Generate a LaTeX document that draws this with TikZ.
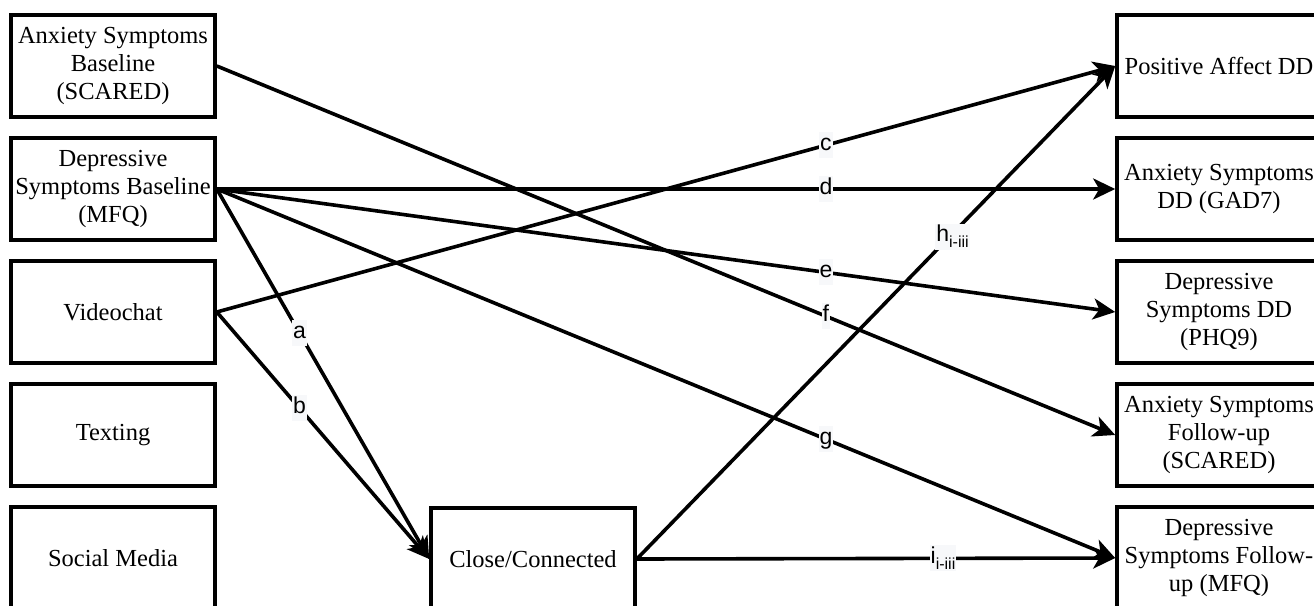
\documentclass[tikz,border=0pt]{standalone}
\usepackage{fontspec}
\setmainfont{Liberation Serif}
\newfontfamily\labfont{Liberation Sans}
\usetikzlibrary{arrows.meta}
\definecolor{labbg}{RGB}{247,248,250}
\begin{document}
\begin{tikzpicture}[x=1pt,y=-1pt,
  box/.style={draw, line width=3.6pt, minimum width=204pt, minimum height=102pt,
    align=center, inner sep=0pt, font=\fontsize{24.5}{28}\selectfont},
  conn/.style={line width=3.6pt, -{Stealth[length=22pt,width=21pt,inset=6pt]}},
  lab/.style={fill=labbg, inner sep=1pt, font=\labfont\fontsize{23}{25}\selectfont,
    text height=17pt, text depth=7pt}]
\useasboundingbox[fill=white] (0,0) rectangle (1314,605);
% left column
\node[box] (asb) at (113,66) {Anxiety Symptoms\\Baseline\\(SCARED)};
\node[box] (dsb) at (113,189) {Depressive\\Symptoms Baseline\\(MFQ)};
\node[box] (vid) at (113,312) {Videochat};
\node[box] (txt) at (113,435) {Texting};
\node[box] (soc) at (113,558) {Social Media};
% mediator
\node[box] (cc) at (533,559) {Close/Connected};
% right column
\node[box] (pad) at (1219,66) {Positive Affect DD};
\node[box] (gad) at (1219,189) {Anxiety Symptoms\\DD (GAD7)};
\node[box] (phq) at (1219,312) {Depressive\\Symptoms DD\\(PHQ9)};
\node[box] (asf) at (1219,435) {Anxiety Symptoms\\Follow-up\\(SCARED)};
\node[box] (dsf) at (1219,558) {Depressive\\Symptoms Follow-\\up (MFQ)};
% connectors
\draw[conn] (asb.east) -- node[lab,pos=0.678] {f} (asf.west);
\draw[conn] (dsb.east) -- node[lab,pos=0.678] {d} (gad.west);
\draw[conn] (dsb.east) -- node[lab,pos=0.678] {e} (phq.west);
\draw[conn] (dsb.east) -- node[lab,pos=0.678] {g} (dsf.west);
\draw[conn] (dsb.east) -- node[lab,pos=0.39] {a} (cc.west);
\draw[conn] (vid.east) -- node[lab,pos=0.39] {b} (cc.west);
\draw[conn] (vid.east) -- node[lab,pos=0.678] {c} (pad.west);
\draw[conn] (cc.east) -- node[lab,pos=0.66,yshift=-3pt] {h\raisebox{-6pt}{\fontsize{16}{18}\selectfont i-iii}} (pad.west);
\draw[conn] (cc.east) -- node[lab,pos=0.64] {i\raisebox{-6pt}{\fontsize{16}{18}\selectfont i-iii}} (dsf.west);
\end{tikzpicture}
\end{document}
